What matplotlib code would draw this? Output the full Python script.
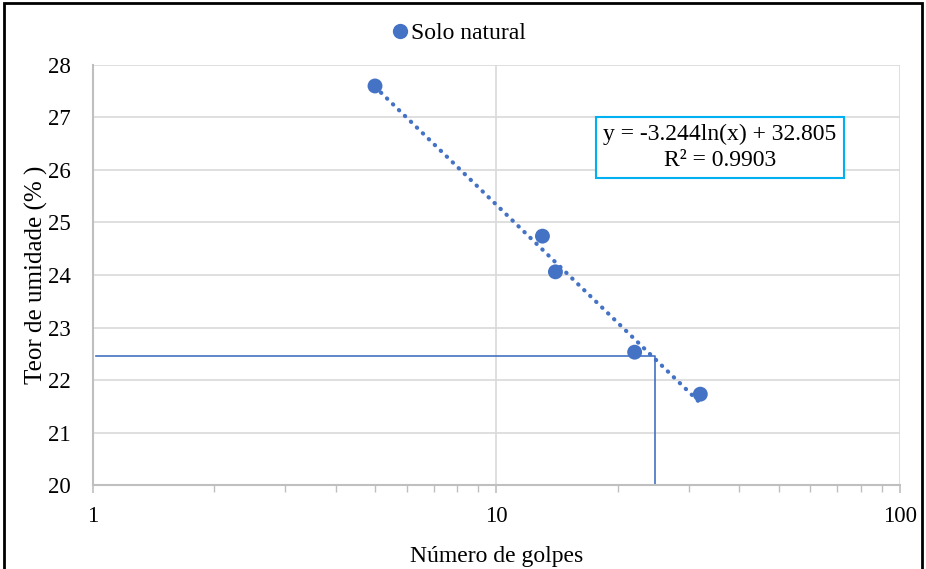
import numpy as np
import matplotlib
matplotlib.use("Agg")
import matplotlib.pyplot as plt
from matplotlib.lines import Line2D
from matplotlib.patches import Rectangle
import matplotlib.ticker as mtick

plt.rcParams["font.family"] = ["Liberation Serif", "DejaVu Serif"]

# data
golpes = [5, 13, 14, 22, 32]
umidade = [27.6, 24.74, 24.06, 22.53, 21.73]

# log trendline shown in the chart: y = a*ln(x) + b
coef_a = -3.244
coef_b = 32.805
r2 = 0.9903

# guide lines (25 blows reading)
guia_x = 24.7
guia_y = 22.46

blue = "#4472C4"
grid = "#D9D9D9"

fig = plt.figure(figsize=(9.26, 5.69), dpi=100)
ax = fig.add_axes([0.1004, 0.1476, 0.8715, 0.7382])

# trendline
xt = np.geomspace(min(golpes), max(golpes), 200)
ax.plot(xt, coef_a * np.log(xt) + coef_b, color=blue, linewidth=3.0,
        linestyle=(0, (0.1, 1.9)), dash_capstyle="round", zorder=3)

ax.scatter(golpes, umidade, s=115, color=blue, zorder=4, edgecolors="none")

# guide lines
ax.plot([1.02, guia_x, guia_x], [guia_y, guia_y, 20], color=blue,
        linewidth=1.2, zorder=2)

ax.set_xscale("log")
ax.set_xlim(1, 100)
ax.set_ylim(20, 28)
ax.yaxis.set_major_locator(mtick.MultipleLocator(1))
ax.xaxis.set_major_formatter(mtick.FuncFormatter(lambda v, p: f"{v:g}"))
ax.xaxis.set_minor_formatter(mtick.NullFormatter())

ax.grid(True, which="major", color=grid, linewidth=1.2, zorder=0)
ax.set_axisbelow(True)
for s in ["top", "right"]:
    ax.spines[s].set_visible(False)
for s in ["left", "bottom"]:
    ax.spines[s].set_color("#BFBFBF")
    ax.spines[s].set_linewidth(1.5)

ax.tick_params(axis="y", length=0, pad=16, labelsize=16.5)
ax.tick_params(axis="x", which="major", length=6, color="#BFBFBF",
               width=1.2, pad=9, labelsize=16.5)
ax.tick_params(axis="x", which="minor", length=5, color="#BFBFBF", width=1.0)

ax.set_xlabel("Número de golpes", fontsize=17, labelpad=14)
ax.set_ylabel("Teor de umidade (% )", fontsize=18, labelpad=0)

ax.text(0.777, 0.8036, f"y = {coef_a}ln(x) + {coef_b}\nR² = {r2}",
        transform=ax.transAxes, ha="center", va="center",
        multialignment="center", fontsize=17, linespacing=1.3,
        bbox=dict(boxstyle="square,pad=0.3", facecolor="white",
                  edgecolor="#00B0F0", linewidth=1.5), zorder=5)

handle = Line2D([], [], marker="o", linestyle="none", color=blue,
                markersize=11, markeredgewidth=0)
fig.legend([handle], ["Solo natural"], loc="center",
           bbox_to_anchor=(0.495, 0.942), frameon=False, fontsize=17,
           handlelength=0.8, handletextpad=0.05, borderaxespad=0)

# outer frame
fig.patches.append(Rectangle((0.004, -0.01), 0.992, 1.005,
                             transform=fig.transFigure, fill=False,
                             edgecolor="black", linewidth=2.0))

plt.savefig("out.png", dpi=100)
plt.close()
